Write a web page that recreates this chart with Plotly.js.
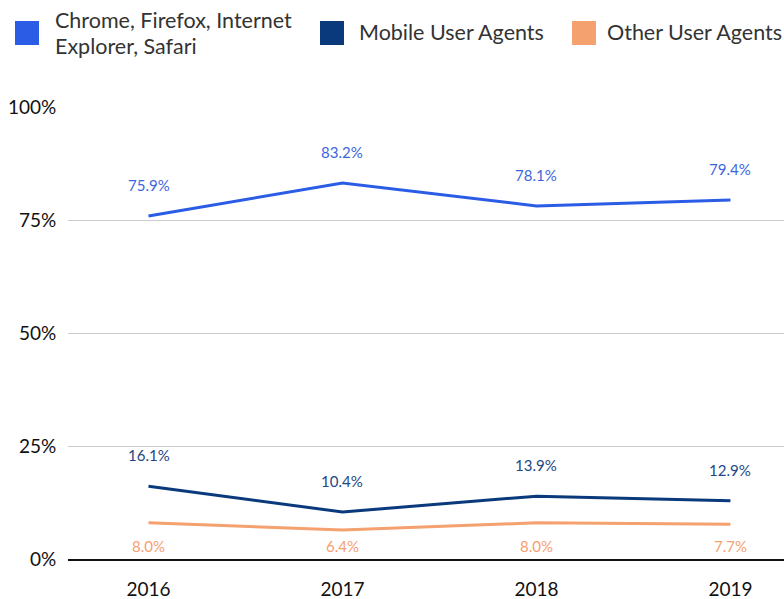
<!DOCTYPE html>
<html>
<head>
<meta charset="utf-8">
<script src="https://cdn.plot.ly/plotly-3.0.1.min.js"></script>
<style>html,body{margin:0;padding:0;background:#fff;}#chart{width:784px;height:599px;}</style>
</head>
<body>
<div id="chart"></div>
<script>
const years = ['2016', '2017', '2018', '2019'];
const desktopNameLines = ['Chrome, Firefox, Internet', 'Explorer, Safari'];
const mobileName = 'Mobile User Agents';
const otherName = 'Other User Agents';
const desktopValues = [75.9, 83.2, 78.1, 79.4];
const mobileValues = [16.1, 10.4, 13.9, 12.9];
const otherValues = [8.0, 6.4, 8.0, 7.7];
const yTickVals = [0, 25, 50, 75, 100];
const yTickText = ['0%', '25%', '50%', '75%', '100%'];

const C_DESK = '#2b5ce6', C_MOB = '#0a3a7c', C_OTH = '#f5a06f';
const C_DESK_T = '#3d66e0', C_MOB_T = '#1d4785', C_OTH_T = '#f5a06f';
const FONT = 'Lato, "Noto Sans", sans-serif';

const L = 68, T = 107, W = 716, H = 452;
const px = x => (x - L) / W;
const py = y => (T + H - y) / H;

const xs = years.map((_, i) => i);
function line(vals, color) {
  return {x: xs, y: vals, type: 'scatter', mode: 'lines',
    line: {color: color, width: 3}, showlegend: false, hoverinfo: 'skip', cliponaxis: false};
}
const data = [line(desktopValues, C_DESK), line(mobileValues, C_MOB), line(otherValues, C_OTH)];

const fmt = v => v.toFixed(1) + '%';
const annotations = [];
desktopValues.forEach((v, i) => annotations.push({x: i, y: v, xref: 'x', yref: 'y', text: fmt(v),
  showarrow: false, yshift: 31, font: {family: FONT, size: 15, color: C_DESK_T}}));
mobileValues.forEach((v, i) => annotations.push({x: i, y: v, xref: 'x', yref: 'y', text: fmt(v),
  showarrow: false, yshift: 31, font: {family: FONT, size: 15, color: C_MOB_T}}));
otherValues.forEach((v, i) => annotations.push({x: i, y: 0, xref: 'x', yref: 'y', text: fmt(v),
  showarrow: false, yshift: 13, font: {family: FONT, size: 15, color: C_OTH_T}}));

// Legend (drawn manually for large square swatches)
const legend = [
  {lines: desktopNameLines, color: C_DESK, sq: 15, tx: 53, ty: [20, 46.5]},
  {lines: [mobileName], color: C_MOB, sq: 320, tx: 357, ty: [31.5]},
  {lines: [otherName], color: C_OTH, sq: 572, tx: 605, ty: [31.5]}
];
const shapes = [];
legend.forEach(l => {
  shapes.push({type: 'rect', xref: 'paper', yref: 'paper', x0: px(l.sq), x1: px(l.sq + 24),
    y0: py(45), y1: py(21), fillcolor: l.color, line: {width: 0}});
  l.lines.forEach((t, k) => annotations.push({xref: 'paper', yref: 'paper', x: px(l.tx), y: py(l.ty[k]),
    xanchor: 'left', yanchor: 'middle', align: 'left', text: t, showarrow: false,
    font: {family: FONT, size: 21.5, color: '#333333'}}));
});

const layout = {
  width: 784, height: 599,
  margin: {l: L, r: 0, t: T, b: 599 - T - H},
  paper_bgcolor: '#fff', plot_bgcolor: '#fff',
  showlegend: false,
  font: {family: FONT, size: 19, color: '#111'},
  xaxis: {type: 'linear', range: [-0.415, 3.276], tickvals: xs, ticktext: years,
    showgrid: false, zeroline: false, showline: true, linecolor: '#111', linewidth: 2,
    ticks: 'outside', ticklen: 12, tickcolor: 'rgba(0,0,0,0)', tickfont: {family: FONT, size: 19, color: '#111'}},
  yaxis: {range: [0, 100], tickvals: yTickVals, ticktext: yTickText,
    showgrid: true, gridcolor: '#cccccc', gridwidth: 1, zeroline: false, showline: false,
    ticks: 'outside', ticklen: 7, tickcolor: 'rgba(0,0,0,0)', tickfont: {family: FONT, size: 19, color: '#111'}},
  annotations: annotations,
  shapes: shapes
};

Plotly.newPlot('chart', data, layout, {displayModeBar: false, staticPlot: true});
</script>
</body>
</html>
